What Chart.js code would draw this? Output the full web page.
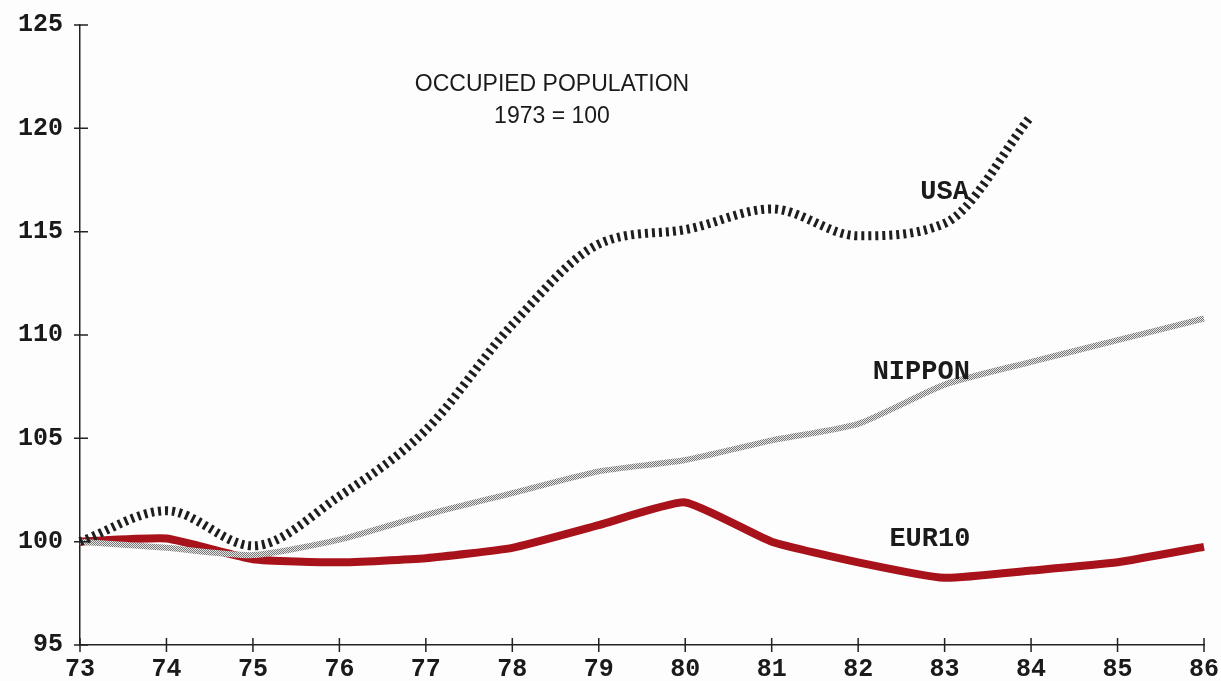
<!DOCTYPE html>
<html>
<head>
<meta charset="utf-8">
<script src="https://cdn.jsdelivr.net/npm/chart.js@4/dist/chart.umd.min.js"></script>
<style>
  html, body { margin: 0; padding: 0; background: #fdfdfd; }
  #wrap { width: 1221px; height: 681px; }
</style>
</head>
<body>
<div id="wrap"><canvas id="chart" width="1221" height="681"></canvas></div>
<script>
// years on the x axis (19xx)
var years = ['73', '74', '75', '76', '77', '78', '79', '80', '81', '82', '83', '84', '85', '86'];
// index values, 1973 = 100
var usa    = [100.0, 101.5, 99.8, 102.2, 105.4, 110.5, 114.4, 115.1, 116.1, 114.8, 115.4, 120.6];
var nippon = [100.0, 99.7, 99.35, 100.1, 101.3, 102.35, 103.4, 103.95, 104.9, 105.7, 107.6, 108.7, 109.75, 110.8];
var eur10  = [100.0, 100.15, 99.15, 99.0, 99.2, 99.7, 100.8, 101.9, 100.0, 99.0, 98.25, 98.6, 99.0, 99.75];
var yTicks = [95, 100, 105, 110, 115, 120, 125];

var monoFont = '"Liberation Mono", "DejaVu Sans Mono", monospace';

// stippled grey look for the NIPPON line
function stipple(){
  var c = document.createElement('canvas');
  c.width = 2; c.height = 2;
  var g = c.getContext('2d');
  g.fillStyle = '#e6e6e6'; g.fillRect(0, 0, 2, 2);
  g.fillStyle = '#777'; g.fillRect(0, 0, 1, 1); g.fillRect(1, 1, 1, 1);
  return g.createPattern(c, 'repeat');
}

// small crosses on the axes + series names and title
var decor = {
  id: 'decor',
  afterDraw(chart){
    var ctx = chart.ctx, xs = chart.scales.x, ys = chart.scales.y;
    var left = chart.chartArea.left, bottom = chart.chartArea.bottom;
    ctx.save();
    ctx.strokeStyle = '#222';
    ctx.lineWidth = 1.5;
    ctx.beginPath();
    yTicks.forEach(function(v){
      var py = ys.getPixelForValue(v);
      ctx.moveTo(left - 6, py); ctx.lineTo(left + 8, py);
    });
    years.forEach(function(y, i){
      var px = xs.getPixelForValue(i);
      ctx.moveTo(px, bottom - 7); ctx.lineTo(px, bottom + 7);
    });
    ctx.stroke();

    ctx.fillStyle = '#1a1a1a';
    ctx.textAlign = 'center';
    ctx.textBaseline = 'middle';
    ctx.font = 'bold 27px ' + monoFont;
    ctx.fillText('USA', xs.getPixelForValue(10.0), ys.getPixelForValue(116.9));
    ctx.fillText('NIPPON', xs.getPixelForValue(9.73), ys.getPixelForValue(108.2));
    ctx.fillText('EUR10', xs.getPixelForValue(9.83), ys.getPixelForValue(100.1));

    ctx.font = '23px "Liberation Sans", Arial, sans-serif';
    ctx.fillText('OCCUPIED POPULATION', 552, 85);
    ctx.fillText('1973 = 100', 552, 117);
    ctx.restore();
  }
};

new Chart(document.getElementById('chart'), {
  type: 'line',
  data: {
    labels: years,
    datasets: [
      {
        label: 'USA', data: usa,
        borderColor: '#1e1e1e', borderWidth: 9, borderDash: [3, 4],
        tension: 0.35, cubicInterpolationMode: 'monotone', pointRadius: 0
      },
      {
        label: 'NIPPON', data: nippon,
        borderColor: stipple(), borderWidth: 6,
        tension: 0.2, pointRadius: 0
      },
      {
        label: 'EUR10', data: eur10,
        borderColor: '#a8121b', borderWidth: 8,
        tension: 0.15, pointRadius: 0
      }
    ]
  },
  options: {
    responsive: false,
    animation: false,
    layout: { padding: { left: 0, right: 17, top: 25, bottom: 0 } },
    plugins: { legend: { display: false }, tooltip: { enabled: false } },
    scales: {
      x: {
        type: 'category', offset: false,
        grid: { display: false, drawTicks: false },
        border: { display: true, color: '#222', width: 1.5 },
        ticks: {
          color: '#1a1a1a', padding: 10, maxRotation: 0, autoSkip: false,
          font: { family: monoFont, size: 25, weight: 'bold' }
        },
        afterFit(s){ s.height = 36; s.paddingLeft = 0; s.paddingRight = 0; }
      },
      y: {
        min: 95, max: 125,
        grid: { display: false, drawTicks: false },
        border: { display: true, color: '#222', width: 1.5 },
        afterBuildTicks(s){ s.ticks = yTicks.map(function(v){ return {value: v}; }); },
        ticks: {
          color: '#1a1a1a', padding: 17,
          font: { family: monoFont, size: 25, weight: 'bold' }
        },
        afterFit(s){ s.width = 80; s.paddingTop = 0; s.paddingBottom = 0; }
      }
    }
  },
  plugins: [decor]
});
</script>
</body>
</html>
